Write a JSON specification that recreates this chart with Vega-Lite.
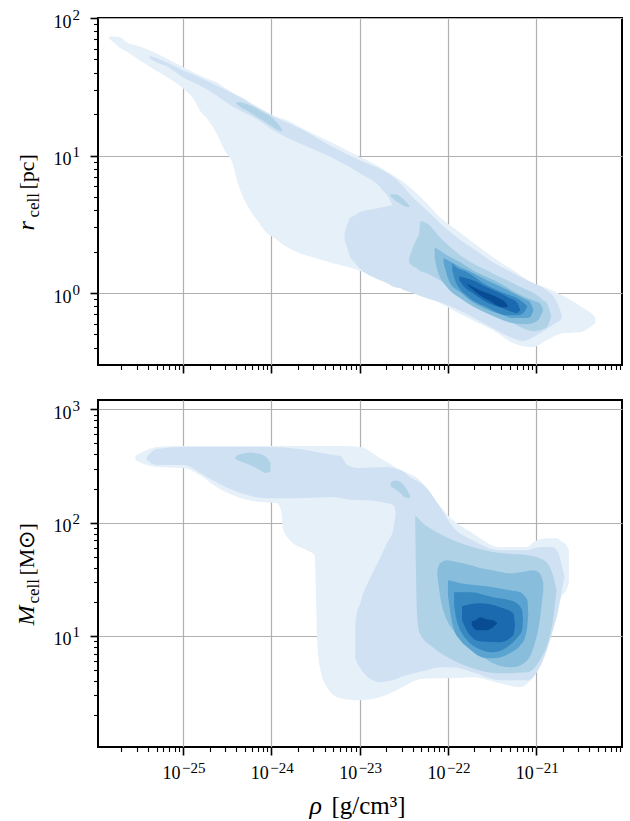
{
"$schema": "https://vega.github.io/schema/vega-lite/v6.json",
"autosize": {"type": "none"},
"padding": {"left": 98, "top": 18, "right": 532, "bottom": 803},
"background": "white",
"bounds": "flush",
"spacing": 35,
"config": {
 "view": {"stroke": "black", "strokeWidth": 2},
 "font": "Liberation Serif",
 "axis": {"zindex": 1, "domain": false, "gridColor": "#b0b0b0", "gridWidth": 1.2, "tickColor": "black",
  "labelFont": "Liberation Serif", "labelFontSize": 18, "labelColor": "black", "labelOverlap": false, "labelFlush": false,
  "titleFont": "Liberation Serif", "titleFontSize": 24, "titleFontWeight": "normal", "titleColor": "black"},
 "area": {"opacity": 1}
},
"datasets": {
"top": [
{"k":1,"g":"a","x":-25.84,"y":1.866,"y2":1.851},{"k":1,"g":"a","x":-25.80,"y":1.866,"y2":1.829},{"k":1,"g":"a","x":-25.72,"y":1.862,"y2":1.786},{"k":1,"g":"a","x":-25.64,"y":1.824,"y2":1.757},{"k":1,"g":"a","x":-25.49,"y":1.793,"y2":1.691},{"k":1,"g":"a","x":-25.30,"y":1.742,"y2":1.615},{"k":1,"g":"a","x":-25.18,"y":1.704,"y2":1.570},{"k":1,"g":"a","x":-25.00,"y":1.643,"y2":1.488},{"k":1,"g":"a","x":-24.87,"y":1.601,"y2":1.401},{"k":1,"g":"a","x":-24.81,"y":1.582,"y2":1.328},{"k":1,"g":"a","x":-24.73,"y":1.561,"y2":1.270},{"k":1,"g":"a","x":-24.62,"y":1.532,"y2":1.161},{"k":1,"g":"a","x":-24.53,"y":1.495,"y2":1.038},{"k":1,"g":"a","x":-24.44,"y":1.459,"y2":0.943},{"k":1,"g":"a","x":-24.39,"y":1.441,"y2":0.820},{"k":1,"g":"a","x":-24.33,"y":1.423,"y2":0.711},{"k":1,"g":"a","x":-24.24,"y":1.386,"y2":0.602},{"k":1,"g":"a","x":-24.16,"y":1.357,"y2":0.529},{"k":1,"g":"a","x":-24.05,"y":1.317,"y2":0.435},{"k":1,"g":"a","x":-23.98,"y":1.292,"y2":0.406},{"k":1,"g":"a","x":-23.82,"y":1.256,"y2":0.333},{"k":1,"g":"a","x":-23.68,"y":1.208,"y2":0.290},{"k":1,"g":"a","x":-23.53,"y":1.161,"y2":0.261},{"k":1,"g":"a","x":-23.30,"y":1.089,"y2":0.217},{"k":1,"g":"a","x":-23.08,"y":1.016,"y2":0.181},{"k":1,"g":"a","x":-22.77,"y":0.914,"y2":0.101},{"k":1,"g":"a","x":-22.43,"y":0.769,"y2":0.014},{"k":1,"g":"a","x":-22.24,"y":0.653,"y2":-0.030},{"k":1,"g":"a","x":-22.09,"y":0.551,"y2":-0.073},{"k":1,"g":"a","x":-21.90,"y":0.457,"y2":-0.139},{"k":1,"g":"a","x":-21.72,"y":0.370,"y2":-0.197},{"k":1,"g":"a","x":-21.49,"y":0.261,"y2":-0.269},{"k":1,"g":"a","x":-21.26,"y":0.166,"y2":-0.364},{"k":1,"g":"a","x":-21.03,"y":0.072,"y2":-0.393},{"k":1,"g":"a","x":-20.88,"y":0.036,"y2":-0.342},{"k":1,"g":"a","x":-20.69,"y":-0.022,"y2":-0.291},{"k":1,"g":"a","x":-20.50,"y":-0.095,"y2":-0.284},{"k":1,"g":"a","x":-20.39,"y":-0.139,"y2":-0.248},{"k":1,"g":"a","x":-20.33,"y":-0.175,"y2":-0.219},
{"k":2,"g":"a","x":-25.38,"y":1.728,"y2":1.706},{"k":2,"g":"a","x":-25.30,"y":1.710,"y2":1.677},{"k":2,"g":"a","x":-25.18,"y":1.677,"y2":1.648},{"k":2,"g":"a","x":-25.00,"y":1.619,"y2":1.568},{"k":2,"g":"a","x":-24.81,"y":1.568,"y2":1.510},{"k":2,"g":"a","x":-24.62,"y":1.510,"y2":1.437},{"k":2,"g":"a","x":-24.44,"y":1.452,"y2":1.357},{"k":2,"g":"a","x":-24.16,"y":1.350,"y2":1.263},{"k":2,"g":"a","x":-23.98,"y":1.288,"y2":1.183},{"k":2,"g":"a","x":-23.68,"y":1.198,"y2":1.089},{"k":2,"g":"a","x":-23.30,"y":1.060,"y2":0.980},{"k":2,"g":"a","x":-23.00,"y":0.965,"y2":0.871},{"k":2,"g":"a","x":-22.74,"y":0.893,"y2":0.750},{"k":2,"g":"a","x":-22.63,"y":0.849,"y2":0.638},{"k":2,"g":"a","x":-22.54,"y":0.798,"y2":0.036},{"k":2,"g":"a","x":-22.40,"y":0.696,"y2":0.000},{"k":2,"g":"a","x":-22.24,"y":0.602,"y2":-0.037},{"k":2,"g":"a","x":-22.09,"y":0.508,"y2":-0.066},{"k":2,"g":"a","x":-21.90,"y":0.406,"y2":-0.117},{"k":2,"g":"a","x":-21.72,"y":0.326,"y2":-0.175},{"k":2,"g":"a","x":-21.49,"y":0.224,"y2":-0.255},{"k":2,"g":"a","x":-21.26,"y":0.145,"y2":-0.328},{"k":2,"g":"a","x":-21.15,"y":0.108,"y2":-0.349},{"k":2,"g":"a","x":-21.03,"y":0.072,"y2":-0.320},{"k":2,"g":"a","x":-20.88,"y":0.021,"y2":-0.262},{"k":2,"g":"a","x":-20.76,"y":-0.073,"y2":-0.211},{"k":2,"g":"a","x":-20.73,"y":-0.124,"y2":-0.197},{"k":2,"g":"a","x":-20.71,"y":-0.160,"y2":-0.180},
{"k":2,"g":"b","x":-23.17,"y":0.435,"y2":0.384},{"k":2,"g":"b","x":-23.14,"y":0.500,"y2":0.326},{"k":2,"g":"b","x":-23.11,"y":0.544,"y2":0.268},{"k":2,"g":"b","x":-23.05,"y":0.566,"y2":0.217},{"k":2,"g":"b","x":-23.00,"y":0.588,"y2":0.181},{"k":2,"g":"b","x":-22.85,"y":0.609,"y2":0.116},{"k":2,"g":"b","x":-22.69,"y":0.631,"y2":0.072},{"k":2,"g":"b","x":-22.60,"y":0.646,"y2":0.043},{"k":2,"g":"b","x":-22.54,"y":0.660,"y2":0.036},
{"k":3,"g":"a","x":-24.40,"y":1.386,"y2":1.379},{"k":3,"g":"a","x":-24.36,"y":1.390,"y2":1.357},{"k":3,"g":"a","x":-24.28,"y":1.375,"y2":1.328},{"k":3,"g":"a","x":-24.19,"y":1.350,"y2":1.292},{"k":3,"g":"a","x":-24.10,"y":1.317,"y2":1.256},{"k":3,"g":"a","x":-23.98,"y":1.270,"y2":1.205},{"k":3,"g":"a","x":-23.92,"y":1.227,"y2":1.183},{"k":3,"g":"a","x":-23.87,"y":1.176,"y2":1.176},
{"k":3,"g":"b","x":-22.65,"y":0.718,"y2":0.704},{"k":3,"g":"b","x":-22.60,"y":0.718,"y2":0.675},{"k":3,"g":"b","x":-22.54,"y":0.700,"y2":0.649},{"k":3,"g":"b","x":-22.49,"y":0.675,"y2":0.631},{"k":3,"g":"b","x":-22.44,"y":0.638,"y2":0.624},
{"k":3,"g":"c","x":-22.44,"y":0.253,"y2":0.224},{"k":3,"g":"c","x":-22.40,"y":0.326,"y2":0.195},{"k":3,"g":"c","x":-22.35,"y":0.399,"y2":0.181},{"k":3,"g":"c","x":-22.33,"y":0.421,"y2":0.166},{"k":3,"g":"c","x":-22.31,"y":0.522,"y2":0.159},{"k":3,"g":"c","x":-22.24,"y":0.508,"y2":0.145},{"k":3,"g":"c","x":-22.09,"y":0.406,"y2":0.094},{"k":3,"g":"c","x":-21.86,"y":0.275,"y2":0.014},{"k":3,"g":"c","x":-21.72,"y":0.217,"y2":-0.044},{"k":3,"g":"c","x":-21.56,"y":0.166,"y2":-0.095},{"k":3,"g":"c","x":-21.41,"y":0.116,"y2":-0.153},{"k":3,"g":"c","x":-21.26,"y":0.072,"y2":-0.219},{"k":3,"g":"c","x":-21.15,"y":0.036,"y2":-0.255},{"k":3,"g":"c","x":-21.03,"y":0.000,"y2":-0.277},{"k":3,"g":"c","x":-20.92,"y":-0.052,"y2":-0.262},{"k":3,"g":"c","x":-20.88,"y":-0.073,"y2":-0.248},{"k":3,"g":"c","x":-20.83,"y":-0.168,"y2":-0.168},
{"k":4,"g":"a","x":-22.15,"y":0.333,"y2":0.253},{"k":4,"g":"a","x":-22.12,"y":0.322,"y2":0.166},{"k":4,"g":"a","x":-22.01,"y":0.275,"y2":0.043},{"k":4,"g":"a","x":-21.86,"y":0.224,"y2":-0.037},{"k":4,"g":"a","x":-21.72,"y":0.166,"y2":-0.095},{"k":4,"g":"a","x":-21.56,"y":0.116,"y2":-0.146},{"k":4,"g":"a","x":-21.41,"y":0.072,"y2":-0.189},{"k":4,"g":"a","x":-21.26,"y":0.014,"y2":-0.219},{"k":4,"g":"a","x":-21.10,"y":-0.037,"y2":-0.226},{"k":4,"g":"a","x":-21.01,"y":-0.059,"y2":-0.211},{"k":4,"g":"a","x":-20.96,"y":-0.073,"y2":-0.182},{"k":4,"g":"a","x":-20.92,"y":-0.124,"y2":-0.124},
{"k":5,"g":"a","x":-22.05,"y":0.253,"y2":0.224},{"k":5,"g":"a","x":-22.02,"y":0.246,"y2":0.152},{"k":5,"g":"a","x":-21.98,"y":0.232,"y2":0.079},{"k":5,"g":"a","x":-21.86,"y":0.188,"y2":0.007},{"k":5,"g":"a","x":-21.78,"y":0.166,"y2":-0.037},{"k":5,"g":"a","x":-21.56,"y":0.094,"y2":-0.117},{"k":5,"g":"a","x":-21.41,"y":0.050,"y2":-0.153},{"k":5,"g":"a","x":-21.26,"y":0.000,"y2":-0.182},{"k":5,"g":"a","x":-21.13,"y":-0.044,"y2":-0.182},{"k":5,"g":"a","x":-21.07,"y":-0.066,"y2":-0.175},{"k":5,"g":"a","x":-21.03,"y":-0.124,"y2":-0.124},
{"k":6,"g":"a","x":-21.95,"y":0.217,"y2":0.166},{"k":6,"g":"a","x":-21.92,"y":0.195,"y2":0.094},{"k":6,"g":"a","x":-21.78,"y":0.152,"y2":-0.022},{"k":6,"g":"a","x":-21.56,"y":0.057,"y2":-0.103},{"k":6,"g":"a","x":-21.33,"y":-0.008,"y2":-0.161},{"k":6,"g":"a","x":-21.22,"y":-0.037,"y2":-0.161},{"k":6,"g":"a","x":-21.15,"y":-0.066,"y2":-0.146},{"k":6,"g":"a","x":-21.10,"y":-0.095,"y2":-0.095},
{"k":7,"g":"a","x":-21.87,"y":0.123,"y2":0.094},{"k":7,"g":"a","x":-21.84,"y":0.116,"y2":0.065},{"k":7,"g":"a","x":-21.72,"y":0.094,"y2":0.000},{"k":7,"g":"a","x":-21.56,"y":0.043,"y2":-0.066},{"k":7,"g":"a","x":-21.41,"y":0.000,"y2":-0.103},{"k":7,"g":"a","x":-21.30,"y":-0.037,"y2":-0.131},{"k":7,"g":"a","x":-21.22,"y":-0.066,"y2":-0.146},{"k":7,"g":"a","x":-21.18,"y":-0.124,"y2":-0.124},
{"k":8,"g":"a","x":-21.78,"y":0.068,"y2":0.061},{"k":8,"g":"a","x":-21.75,"y":0.057,"y2":0.043},{"k":8,"g":"a","x":-21.64,"y":0.021,"y2":-0.015},{"k":8,"g":"a","x":-21.52,"y":-0.008,"y2":-0.059},{"k":8,"g":"a","x":-21.41,"y":-0.041,"y2":-0.099},{"k":8,"g":"a","x":-21.35,"y":-0.066,"y2":-0.103},{"k":8,"g":"a","x":-21.32,"y":-0.095,"y2":-0.095}
],
"bot": [
{"k":1,"g":"a","x":-25.54,"y":2.59,"y2":2.55},{"k":1,"g":"a","x":-25.41,"y":2.640,"y2":2.508},{"k":1,"g":"a","x":-25.30,"y":2.667,"y2":2.490},{"k":1,"g":"a","x":-25.00,"y":2.676,"y2":2.481},{"k":1,"g":"a","x":-24.81,"y":2.676,"y2":2.420},{"k":1,"g":"a","x":-24.62,"y":2.676,"y2":2.314},{"k":1,"g":"a","x":-24.44,"y":2.676,"y2":2.243},{"k":1,"g":"a","x":-24.13,"y":2.676,"y2":2.181},{"k":1,"g":"a","x":-23.94,"y":2.676,"y2":2.172},{"k":1,"g":"a","x":-23.89,"y":2.676,"y2":2.110},{"k":1,"g":"a","x":-23.87,"y":2.676,"y2":1.951},{"k":1,"g":"a","x":-23.79,"y":2.676,"y2":1.845},{"k":1,"g":"a","x":-23.60,"y":2.676,"y2":1.757},{"k":1,"g":"a","x":-23.51,"y":2.676,"y2":1.713},{"k":1,"g":"a","x":-23.48,"y":2.676,"y2":0.962},{"k":1,"g":"a","x":-23.45,"y":2.676,"y2":0.723},{"k":1,"g":"a","x":-23.37,"y":2.676,"y2":0.547},{"k":1,"g":"a","x":-23.22,"y":2.676,"y2":0.450},{"k":1,"g":"a","x":-23.00,"y":2.670,"y2":0.432},{"k":1,"g":"a","x":-22.77,"y":2.570,"y2":0.458},{"k":1,"g":"a","x":-22.54,"y":2.464,"y2":0.538},{"k":1,"g":"a","x":-22.32,"y":2.375,"y2":0.617},{"k":1,"g":"a","x":-22.17,"y":2.225,"y2":0.626},{"k":1,"g":"a","x":-21.98,"y":2.049,"y2":0.626},{"k":1,"g":"a","x":-21.72,"y":1.907,"y2":0.635},{"k":1,"g":"a","x":-21.41,"y":1.784,"y2":0.582},{"k":1,"g":"a","x":-21.18,"y":1.784,"y2":0.547},{"k":1,"g":"a","x":-21.10,"y":1.784,"y2":0.582},{"k":1,"g":"a","x":-21.03,"y":1.828,"y2":0.635},{"k":1,"g":"a","x":-20.99,"y":1.845,"y2":0.697},{"k":1,"g":"a","x":-20.96,"y":1.854,"y2":0.785},{"k":1,"g":"a","x":-20.88,"y":1.863,"y2":1.006},{"k":1,"g":"a","x":-20.81,"y":1.863,"y2":1.139},{"k":1,"g":"a","x":-20.76,"y":1.863,"y2":1.227},{"k":1,"g":"a","x":-20.73,"y":1.845,"y2":1.315},{"k":1,"g":"a","x":-20.65,"y":1.792,"y2":1.421},{"k":1,"g":"a","x":-20.63,"y":1.757,"y2":1.466},
{"k":2,"g":"a","x":-25.41,"y":2.579,"y2":2.552},{"k":2,"g":"a","x":-25.30,"y":2.649,"y2":2.508},{"k":2,"g":"a","x":-25.00,"y":2.667,"y2":2.508},{"k":2,"g":"a","x":-24.73,"y":2.667,"y2":2.402},{"k":2,"g":"a","x":-24.44,"y":2.667,"y2":2.287},{"k":2,"g":"a","x":-24.05,"y":2.667,"y2":2.216},{"k":2,"g":"a","x":-23.68,"y":2.649,"y2":2.216},{"k":2,"g":"a","x":-23.30,"y":2.596,"y2":2.225},{"k":2,"g":"a","x":-23.22,"y":2.587,"y2":2.216},{"k":2,"g":"a","x":-23.14,"y":2.508,"y2":2.208},{"k":2,"g":"a","x":-23.08,"y":2.490,"y2":2.199},{"k":2,"g":"a","x":-23.00,"y":2.481,"y2":2.199},{"k":2,"g":"a","x":-22.69,"y":2.490,"y2":2.172},{"k":2,"g":"a","x":-22.62,"y":2.481,"y2":2.155},{"k":2,"g":"a","x":-22.58,"y":2.473,"y2":2.066},{"k":2,"g":"a","x":-22.54,"y":2.464,"y2":1.934},
{"k":2,"g":"b","x":-23.05,"y":1.095,"y2":0.803},{"k":2,"g":"b","x":-23.03,"y":1.209,"y2":0.768},{"k":2,"g":"b","x":-23.00,"y":1.271,"y2":0.723},{"k":2,"g":"b","x":-22.96,"y":1.377,"y2":0.679},{"k":2,"g":"b","x":-22.92,"y":1.448,"y2":0.644},{"k":2,"g":"b","x":-22.85,"y":1.563,"y2":0.609},{"k":2,"g":"b","x":-22.77,"y":1.686,"y2":0.591},{"k":2,"g":"b","x":-22.69,"y":1.819,"y2":0.600},{"k":2,"g":"b","x":-22.62,"y":1.934,"y2":0.609},{"k":2,"g":"b","x":-22.59,"y":2.093,"y2":0.617},{"k":2,"g":"b","x":-22.54,"y":2.464,"y2":0.635},{"k":2,"g":"b","x":-22.43,"y":2.402,"y2":0.662},{"k":2,"g":"b","x":-22.24,"y":2.305,"y2":0.697},{"k":2,"g":"b","x":-22.09,"y":2.137,"y2":0.723},{"k":2,"g":"b","x":-21.94,"y":1.960,"y2":0.723},{"k":2,"g":"b","x":-21.72,"y":1.845,"y2":0.679},{"k":2,"g":"b","x":-21.41,"y":1.757,"y2":0.609},{"k":2,"g":"b","x":-21.10,"y":1.757,"y2":0.609},{"k":2,"g":"b","x":-20.96,"y":1.784,"y2":0.723},{"k":2,"g":"b","x":-20.81,"y":1.784,"y2":1.050},{"k":2,"g":"b","x":-20.75,"y":1.731,"y2":1.227},{"k":2,"g":"b","x":-20.71,"y":1.625,"y2":1.404},{"k":2,"g":"b","x":-20.68,"y":1.519,"y2":1.519},
{"k":3,"g":"a","x":-24.41,"y":2.579,"y2":2.561},{"k":3,"g":"a","x":-24.36,"y":2.601,"y2":2.543},{"k":3,"g":"a","x":-24.24,"y":2.617,"y2":2.508},{"k":3,"g":"a","x":-24.13,"y":2.605,"y2":2.464},{"k":3,"g":"a","x":-24.06,"y":2.579,"y2":2.437},{"k":3,"g":"a","x":-24.01,"y":2.526,"y2":2.455},
{"k":3,"g":"b","x":-22.65,"y":2.349,"y2":2.322},{"k":3,"g":"b","x":-22.60,"y":2.371,"y2":2.296},{"k":3,"g":"b","x":-22.54,"y":2.358,"y2":2.261},{"k":3,"g":"b","x":-22.49,"y":2.322,"y2":2.225},{"k":3,"g":"b","x":-22.43,"y":2.243,"y2":2.216},
{"k":3,"g":"c","x":-22.37,"y":2.066,"y2":1.978},{"k":3,"g":"c","x":-22.35,"y":2.049,"y2":1.183},{"k":3,"g":"c","x":-22.32,"y":2.022,"y2":1.024},{"k":3,"g":"c","x":-22.17,"y":1.934,"y2":0.900},{"k":3,"g":"c","x":-21.94,"y":1.845,"y2":0.785},{"k":3,"g":"c","x":-21.72,"y":1.784,"y2":0.715},{"k":3,"g":"c","x":-21.41,"y":1.731,"y2":0.670},{"k":3,"g":"c","x":-21.10,"y":1.713,"y2":0.679},{"k":3,"g":"c","x":-20.96,"y":1.686,"y2":0.785},{"k":3,"g":"c","x":-20.86,"y":1.625,"y2":0.962},{"k":3,"g":"c","x":-20.81,"y":1.536,"y2":1.139},{"k":3,"g":"c","x":-20.77,"y":1.404,"y2":1.404},
{"k":4,"g":"a","x":-22.12,"y":1.580,"y2":1.536},{"k":4,"g":"a","x":-22.09,"y":1.642,"y2":1.360},{"k":4,"g":"a","x":-22.01,"y":1.669,"y2":1.139},{"k":4,"g":"a","x":-21.94,"y":1.660,"y2":1.050},{"k":4,"g":"a","x":-21.75,"y":1.625,"y2":0.900},{"k":4,"g":"a","x":-21.67,"y":1.607,"y2":0.856},{"k":4,"g":"a","x":-21.49,"y":1.580,"y2":0.759},{"k":4,"g":"a","x":-21.30,"y":1.554,"y2":0.723},{"k":4,"g":"a","x":-21.26,"y":1.554,"y2":0.723},{"k":4,"g":"a","x":-21.10,"y":1.572,"y2":0.785},{"k":4,"g":"a","x":-21.03,"y":1.580,"y2":0.900},{"k":4,"g":"a","x":-20.96,"y":1.554,"y2":1.139},{"k":4,"g":"a","x":-20.92,"y":1.474,"y2":1.404},
{"k":5,"g":"a","x":-22.00,"y":1.492,"y2":1.360},{"k":5,"g":"a","x":-21.94,"y":1.483,"y2":1.077},{"k":5,"g":"a","x":-21.86,"y":1.466,"y2":0.962},{"k":5,"g":"a","x":-21.78,"y":1.457,"y2":0.900},{"k":5,"g":"a","x":-21.56,"y":1.439,"y2":0.803},{"k":5,"g":"a","x":-21.49,"y":1.430,"y2":0.803},{"k":5,"g":"a","x":-21.30,"y":1.404,"y2":0.847},{"k":5,"g":"a","x":-21.18,"y":1.386,"y2":0.918},{"k":5,"g":"a","x":-21.13,"y":1.351,"y2":0.980},{"k":5,"g":"a","x":-21.10,"y":1.315,"y2":1.095},{"k":5,"g":"a","x":-21.09,"y":1.183,"y2":1.183},
{"k":6,"g":"a","x":-21.93,"y":1.386,"y2":1.271},{"k":6,"g":"a","x":-21.90,"y":1.386,"y2":1.139},{"k":6,"g":"a","x":-21.78,"y":1.386,"y2":0.962},{"k":6,"g":"a","x":-21.75,"y":1.386,"y2":0.936},{"k":6,"g":"a","x":-21.49,"y":1.342,"y2":0.856},{"k":6,"g":"a","x":-21.30,"y":1.315,"y2":0.918},{"k":6,"g":"a","x":-21.22,"y":1.289,"y2":0.980},{"k":6,"g":"a","x":-21.16,"y":1.227,"y2":1.050},{"k":6,"g":"a","x":-21.15,"y":1.139,"y2":1.139},
{"k":7,"g":"a","x":-21.84,"y":1.262,"y2":1.139},{"k":7,"g":"a","x":-21.75,"y":1.280,"y2":1.006},{"k":7,"g":"a","x":-21.64,"y":1.289,"y2":0.953},{"k":7,"g":"a","x":-21.41,"y":1.254,"y2":0.944},{"k":7,"g":"a","x":-21.26,"y":1.201,"y2":1.006},{"k":7,"g":"a","x":-21.24,"y":1.095,"y2":1.095},
{"k":8,"g":"a","x":-21.73,"y":1.130,"y2":1.095},{"k":8,"g":"a","x":-21.67,"y":1.148,"y2":1.050},{"k":8,"g":"a","x":-21.64,"y":1.165,"y2":1.050},{"k":8,"g":"a","x":-21.56,"y":1.148,"y2":1.050},{"k":8,"g":"a","x":-21.49,"y":1.139,"y2":1.077},{"k":8,"g":"a","x":-21.44,"y":1.112,"y2":1.112}
]
},
"vconcat": [
{
 "width": 524, "height": 347,
 "data": {"name": "top"},
 "resolve": {"axis": {"x": "independent", "y": "independent"}},
 "layer": [
  {
   "encoding": {
    "x": {"field": "x", "type": "quantitative",
     "scale": {"domain": [-25.964, -20.028], "nice": false, "zero": false},
     "axis": {"orient": "bottom", "title": null, "labels": false,
      "values": [-25.699,-25.523,-25.398,-25.301,-25.222,-25.155,-25.097,-25.046,-25,-24.699,-24.523,-24.398,-24.301,-24.222,-24.155,-24.097,-24.046,-24,-23.699,-23.523,-23.398,-23.301,-23.222,-23.155,-23.097,-23.046,-23,-22.699,-22.523,-22.398,-22.301,-22.222,-22.155,-22.097,-22.046,-22,-21.699,-21.523,-21.398,-21.301,-21.222,-21.155,-21.097,-21.046,-21,-20.699,-20.523,-20.398,-20.301,-20.222,-20.155,-20.097,-20.046],
      "gridOpacity": {"condition": {"test": "abs(datum.value-round(datum.value))<0.001", "value": 1}, "value": 0},
      "tickSize": {"condition": {"test": "abs(datum.value-round(datum.value))<0.001", "value": 8}, "value": 4.5},
      "tickWidth": {"condition": {"test": "abs(datum.value-round(datum.value))<0.001", "value": 1.6}, "value": 1.1}}},
    "y": {"field": "y", "type": "quantitative", "stack": null,
     "scale": {"domain": [-0.523, 2], "nice": false, "zero": false},
     "axis": {"orient": "left", "title": "r", "titleFontStyle": "italic", "titleAngle": 270, "titleAlign": "left", "titleBaseline": "alphabetic", "titleX": -65, "titleY": 212,
      "values": [-0.398,-0.301,-0.222,-0.155,-0.097,-0.046,0,0.301,0.477,0.602,0.699,0.778,0.845,0.903,0.954,1,1.301,1.477,1.602,1.699,1.778,1.845,1.903,1.954,2],
      "labelExpr": "abs(datum.value-round(datum.value))<0.001 ? '10' : ''",
      "labelAlign": "right", "labelBaseline": "alphabetic", "labelOffset": 9, "labelPadding": 19,
      "gridOpacity": {"condition": {"test": "abs(datum.value-round(datum.value))<0.001", "value": 1}, "value": 0},
      "tickSize": {"condition": {"test": "abs(datum.value-round(datum.value))<0.001", "value": 8}, "value": 4.5},
      "tickWidth": {"condition": {"test": "abs(datum.value-round(datum.value))<0.001", "value": 1.6}, "value": 1.1}}},
    "y2": {"field": "y2"},
    "detail": {"field": "g"}
   },
   "layer": [
    {"transform": [{"filter": "datum.k == 1"}], "mark": {"type": "area", "color": "#e6f0f9", "interpolate": "monotone"}},
    {"transform": [{"filter": "datum.k == 2"}], "mark": {"type": "area", "color": "#cfe1f2", "interpolate": "monotone"}},
    {"transform": [{"filter": "datum.k == 3"}], "mark": {"type": "area", "color": "#b0d2e7", "interpolate": "monotone"}},
    {"transform": [{"filter": "datum.k == 4"}], "mark": {"type": "area", "color": "#88bedc", "interpolate": "monotone"}},
    {"transform": [{"filter": "datum.k == 5"}], "mark": {"type": "area", "color": "#5ba3d0", "interpolate": "monotone"}},
    {"transform": [{"filter": "datum.k == 6"}], "mark": {"type": "area", "color": "#3787c1", "interpolate": "monotone"}},
    {"transform": [{"filter": "datum.k == 7"}], "mark": {"type": "area", "color": "#1b69af", "interpolate": "monotone"}},
    {"transform": [{"filter": "datum.k == 8"}], "mark": {"type": "area", "color": "#084c94", "interpolate": "monotone"}}
   ]
  },
  {
   "mark": {"type": "point", "opacity": 0},
   "encoding": {
    "x": {"field": "x", "type": "quantitative", "scale": {"domain": [-25.964, -20.028], "nice": false, "zero": false}, "axis": null},
    "y": {"field": "y", "type": "quantitative", "scale": {"domain": [-0.523, 2], "nice": false, "zero": false},
     "axis": {"orient": "left", "values": [0, 1, 2], "labelExpr": "format(datum.value, 'd')", "ticks": false, "tickSize": 0, "grid": false,
      "labelAlign": "left", "labelBaseline": "alphabetic", "labelOffset": 1, "labelPadding": 26, "labelFontSize": 15,
      "title": "cell", "titleFontSize": 17, "titleAngle": 270, "titleAlign": "left", "titleBaseline": "alphabetic", "titleX": -60, "titleY": 199}}
   }
  },
  {
   "mark": {"type": "point", "opacity": 0},
   "encoding": {
    "x": {"field": "x", "type": "quantitative", "scale": {"domain": [-25.964, -20.028], "nice": false, "zero": false}, "axis": null},
    "y": {"field": "y", "type": "quantitative", "scale": {"domain": [-0.523, 2], "nice": false, "zero": false},
     "axis": {"orient": "left", "labels": false, "ticks": false, "tickSize": 0, "grid": false,
      "title": "[pc]", "titleFontSize": 22, "titleAngle": 270, "titleAlign": "left", "titleBaseline": "alphabetic", "titleX": -65, "titleY": 171}}
   }
  }
 ]
},
{
 "width": 524, "height": 347,
 "data": {"name": "bot"},
 "resolve": {"axis": {"x": "independent", "y": "independent"}},
 "layer": [
  {
   "encoding": {
    "x": {"field": "x", "type": "quantitative",
     "scale": {"domain": [-25.964, -20.028], "nice": false, "zero": false},
     "axis": {"orient": "bottom", "title": "[g/cm³]", "titleFontSize": 25, "titleX": 233, "titleY": 66, "titleAlign": "left", "titleBaseline": "alphabetic",
      "values": [-25.699,-25.523,-25.398,-25.301,-25.222,-25.155,-25.097,-25.046,-25,-24.699,-24.523,-24.398,-24.301,-24.222,-24.155,-24.097,-24.046,-24,-23.699,-23.523,-23.398,-23.301,-23.222,-23.155,-23.097,-23.046,-23,-22.699,-22.523,-22.398,-22.301,-22.222,-22.155,-22.097,-22.046,-22,-21.699,-21.523,-21.398,-21.301,-21.222,-21.155,-21.097,-21.046,-21,-20.699,-20.523,-20.398,-20.301,-20.222,-20.155,-20.097,-20.046],
      "labelExpr": "abs(datum.value-round(datum.value))<0.001 ? '10' : ''",
      "labelAlign": "right", "labelBaseline": "alphabetic", "labelOffset": -3, "labelPadding": 23,
      "gridOpacity": {"condition": {"test": "abs(datum.value-round(datum.value))<0.001", "value": 1}, "value": 0},
      "tickSize": {"condition": {"test": "abs(datum.value-round(datum.value))<0.001", "value": 8}, "value": 4.5},
      "tickWidth": {"condition": {"test": "abs(datum.value-round(datum.value))<0.001", "value": 1.6}, "value": 1.1}}},
    "y": {"field": "y", "type": "quantitative", "stack": null,
     "scale": {"domain": [0.02, 3.082], "nice": false, "zero": false},
     "axis": {"orient": "left", "title": "M", "titleFontStyle": "italic", "titleAngle": 270, "titleAlign": "left", "titleBaseline": "alphabetic", "titleX": -65, "titleY": 225,
      "values": [0.301,0.477,0.602,0.699,0.778,0.845,0.903,0.954,1,1.301,1.477,1.602,1.699,1.778,1.845,1.903,1.954,2,2.301,2.477,2.602,2.699,2.778,2.845,2.903,2.954,3],
      "labelExpr": "abs(datum.value-round(datum.value))<0.001 ? '10' : ''",
      "labelAlign": "right", "labelBaseline": "alphabetic", "labelOffset": 9, "labelPadding": 19,
      "gridOpacity": {"condition": {"test": "abs(datum.value-round(datum.value))<0.001", "value": 1}, "value": 0},
      "tickSize": {"condition": {"test": "abs(datum.value-round(datum.value))<0.001", "value": 8}, "value": 4.5},
      "tickWidth": {"condition": {"test": "abs(datum.value-round(datum.value))<0.001", "value": 1.6}, "value": 1.1}}},
    "y2": {"field": "y2"},
    "detail": {"field": "g"}
   },
   "layer": [
    {"transform": [{"filter": "datum.k == 1"}], "mark": {"type": "area", "color": "#e6f0f9", "interpolate": "monotone"}},
    {"transform": [{"filter": "datum.k == 2"}], "mark": {"type": "area", "color": "#cfe1f2", "interpolate": "monotone"}},
    {"transform": [{"filter": "datum.k == 3"}], "mark": {"type": "area", "color": "#b0d2e7", "interpolate": "monotone"}},
    {"transform": [{"filter": "datum.k == 4"}], "mark": {"type": "area", "color": "#88bedc", "interpolate": "monotone"}},
    {"transform": [{"filter": "datum.k == 5"}], "mark": {"type": "area", "color": "#5ba3d0", "interpolate": "monotone"}},
    {"transform": [{"filter": "datum.k == 6"}], "mark": {"type": "area", "color": "#3787c1", "interpolate": "monotone"}},
    {"transform": [{"filter": "datum.k == 7"}], "mark": {"type": "area", "color": "#1b69af", "interpolate": "monotone"}},
    {"transform": [{"filter": "datum.k == 8"}], "mark": {"type": "area", "color": "#084c94", "interpolate": "monotone"}}
   ]
  },
  {
   "mark": {"type": "point", "opacity": 0},
   "encoding": {
    "x": {"field": "x", "type": "quantitative", "scale": {"domain": [-25.964, -20.028], "nice": false, "zero": false},
     "axis": {"orient": "bottom", "values": [-25, -24, -23, -22, -21], "labelExpr": "'−' + format(-datum.value, 'd')", "ticks": false, "tickSize": 0, "grid": false,
      "labelAlign": "left", "labelBaseline": "alphabetic", "labelOffset": -1.5, "labelPadding": 25, "labelFontSize": 15,
      "title": "ρ", "titleFontSize": 26, "titleFontStyle": "italic", "titleX": 211, "titleY": 66, "titleAlign": "left", "titleBaseline": "alphabetic"}},
    "y": {"field": "y", "type": "quantitative", "scale": {"domain": [0.02, 3.082], "nice": false, "zero": false},
     "axis": {"orient": "left", "values": [1, 2, 3], "labelExpr": "format(datum.value, 'd')", "ticks": false, "tickSize": 0, "grid": false,
      "labelAlign": "left", "labelBaseline": "alphabetic", "labelOffset": 1, "labelPadding": 26, "labelFontSize": 15,
      "title": "cell", "titleFontSize": 17, "titleAngle": 270, "titleAlign": "left", "titleBaseline": "alphabetic", "titleX": -60, "titleY": 203}}
   }
  },
  {
   "mark": {"type": "point", "opacity": 0},
   "encoding": {
    "x": {"field": "x", "type": "quantitative", "scale": {"domain": [-25.964, -20.028], "nice": false, "zero": false}, "axis": null},
    "y": {"field": "y", "type": "quantitative", "scale": {"domain": [0.02, 3.082], "nice": false, "zero": false},
     "axis": {"orient": "left", "labels": false, "ticks": false, "tickSize": 0, "grid": false,
      "title": "[M⊙]", "titleFontSize": 22, "titleAngle": 270, "titleAlign": "left", "titleBaseline": "alphabetic", "titleX": -65, "titleY": 175}}
   }
  }
 ]
}
]
}
